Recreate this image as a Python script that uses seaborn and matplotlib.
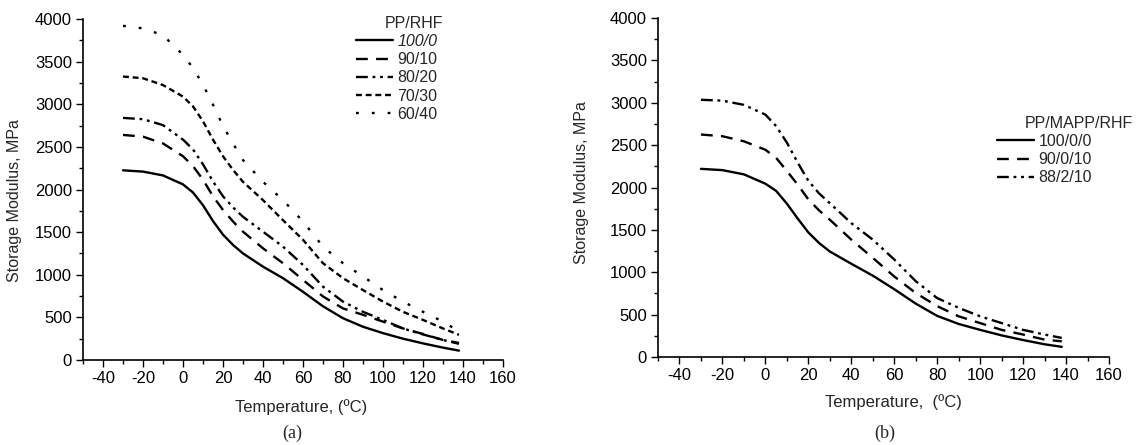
import matplotlib
matplotlib.use("Agg")
import matplotlib.pyplot as plt
import seaborn as sns
from matplotlib.ticker import MultipleLocator

# ---------------- data ----------------
temps = [-30, -20, -10, 0, 5, 10, 15, 20, 25, 30, 40, 50, 60, 70, 80, 90, 100, 110, 120, 130, 138]

# panel (a): PP/RHF
labels_a = ["100/0", "90/10", "80/20", "70/30", "60/40"]
e_100_0 = [2225, 2210, 2165, 2060, 1965, 1815, 1630, 1470, 1350, 1250, 1095, 960, 800, 630, 490, 390, 315, 250, 195, 145, 110]
e_90_10 = [2640, 2620, 2540, 2390, 2275, 2115, 1920, 1760, 1625, 1505, 1310, 1135, 940, 745, 605, 530, 450, 370, 305, 235, 200]
e_80_20 = [2840, 2825, 2755, 2585, 2470, 2295, 2095, 1920, 1790, 1680, 1505, 1330, 1115, 860, 685, 565, 470, 370, 300, 235, 190]
e_70_30 = [3325, 3305, 3225, 3090, 2975, 2800, 2585, 2390, 2230, 2090, 1875, 1640, 1410, 1135, 960, 820, 685, 565, 470, 370, 295]
e_60_40 = [3920, 3890, 3810, 3580, 3425, 3230, 2995, 2745, 2540, 2345, 2090, 1875, 1625, 1330, 1135, 980, 820, 685, 565, 450, 335]

# panel (b): PP/MAPP/RHF
labels_b = ["100/0/0", "90/0/10", "88/2/10"]
e_100_0_0 = [2220, 2205, 2155, 2045, 1960, 1810, 1635, 1470, 1345, 1245, 1100, 960, 800, 630, 485, 390, 320, 255, 200, 150, 120]
e_90_0_10 = [2625, 2605, 2545, 2445, 2350, 2195, 2035, 1860, 1730, 1620, 1385, 1170, 950, 755, 600, 480, 400, 320, 265, 205, 185]
e_88_2_10 = [3035, 3025, 2975, 2860, 2725, 2530, 2295, 2080, 1930, 1815, 1580, 1385, 1150, 895, 695, 580, 480, 400, 320, 265, 225]

x_ticks = [-40, -20, 0, 20, 40, 60, 80, 100, 120, 140, 160]
y_ticks = [0, 500, 1000, 1500, 2000, 2500, 3000, 3500, 4000]

# ---------------- style ----------------
sns.set_style("ticks")
plt.rcParams['font.family'] = ['Liberation Sans', 'DejaVu Sans']
plt.rcParams['axes.unicode_minus'] = False

W, H = 1137, 445
fig = plt.figure(figsize=(W / 100, H / 100), dpi=100)
fig.patch.set_facecolor("white")


def px_axes(l, r, t, b):
    return [l / W, 1 - b / H, (r - l) / W, (b - t) / H]


ax_a = fig.add_axes(px_axes(83, 503, 19, 360))
ax_b = fig.add_axes(px_axes(658, 1109, 18, 357))

styles = ['-', (0, (5, 3.5)), (0, (5, 2, 1.2, 2, 1.2, 2)), (0, (2.5, 1.6)), (0, (1.2, 5.5))]

for lab, vals, ls in zip(labels_a, [e_100_0, e_90_10, e_80_20, e_70_30, e_60_40], styles):
    sns.lineplot(x=temps, y=vals, ax=ax_a, color='black', linewidth=1.7,
                 linestyle=ls, label=lab)

for lab, vals, ls in zip(labels_b, [e_100_0_0, e_90_0_10, e_88_2_10], styles[:3]):
    sns.lineplot(x=temps, y=vals, ax=ax_b, color='black', linewidth=1.7,
                 linestyle=ls, label=lab)

for ax in (ax_a, ax_b):
    ax.set_xlim(-50, 160)
    ax.set_ylim(0, 4000)
    ax.set_xticks(x_ticks)
    ax.set_yticks(y_ticks)
    ax.xaxis.set_minor_locator(MultipleLocator(10))
    ax.yaxis.set_minor_locator(MultipleLocator(250))
    sns.despine(ax=ax)
    for sp in ("left", "bottom"):
        ax.spines[sp].set_linewidth(1.2)
        ax.spines[sp].set_color("black")
    ax.tick_params(which='major', direction='out', length=5, width=1, labelsize=12,
                   pad=3, colors='black')
    ax.tick_params(which='minor', direction='out', length=3, width=1, colors='black')
    ax.set_facecolor("white")

ax_a.set_ylabel("Storage Modulus, MPa", fontsize=11.5)
ax_b.set_ylabel("Storage Modulus, MPa", fontsize=11.5)
ax_a.yaxis.set_label_coords(-0.145, 0.469)
ax_b.yaxis.set_label_coords(-0.153, 0.516)

ax_a.set_xlabel("Temperature, (\u00baC)", fontsize=12)
ax_b.set_xlabel("Temperature,  (\u00baC)", fontsize=12)
ax_a.xaxis.set_label_coords(0.519, -0.115)
ax_b.xaxis.set_label_coords(0.523, -0.110)

leg_kw = dict(loc='upper left', bbox_transform=fig.transFigure, frameon=False, fontsize=11.5,
              handlelength=2.3, handletextpad=0.3, labelspacing=0.2, borderpad=0,
              borderaxespad=0)
leg_a = ax_a.legend(bbox_to_anchor=(356 / W, 1 - 34 / H), **leg_kw)
leg_a.get_texts()[0].set_fontstyle('italic')
leg_b = ax_b.legend(bbox_to_anchor=(997 / W, 1 - 134 / H), **leg_kw)

fig.text(443 / W, 1 - 23 / H, "PP/RHF", ha='right', va='center', fontsize=11.5)
fig.text(1025 / W, 1 - 123 / H, "PP/MAPP/RHF", ha='left', va='center', fontsize=11.5)

fig.text(292 / W, 1 - 433 / H, "(a)", ha='center', va='center', fontsize=13,
         family=['Liberation Serif', 'DejaVu Serif'])
fig.text(885 / W, 1 - 433 / H, "(b)", ha='center', va='center', fontsize=13,
         family=['Liberation Serif', 'DejaVu Serif'])

fig.savefig("out.png", dpi=100, facecolor="white")
